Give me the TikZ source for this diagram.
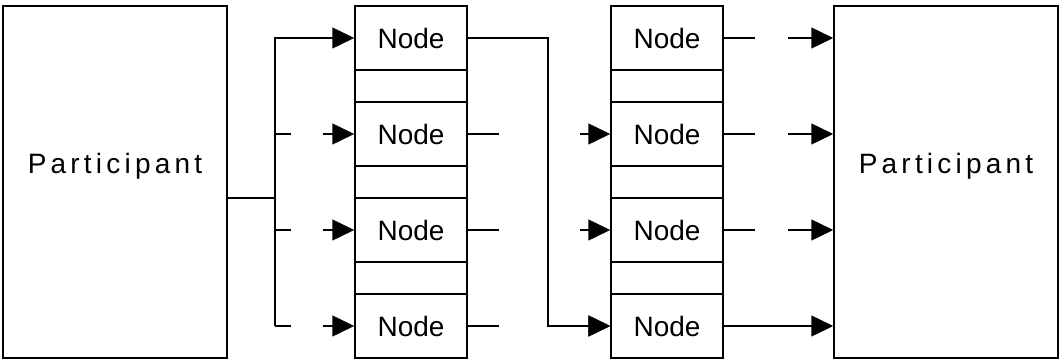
\documentclass[tikz,border=0pt]{standalone}
\usepackage{fontspec}
\setmainfont{Liberation Sans}
\newfontfamily\spacedfont[LetterSpace=15]{Liberation Sans}
\usetikzlibrary{arrows.meta,calc}

\tikzset{
  box/.style={draw, line width=1.5pt, inner sep=0pt, minimum width=112pt},
  cell/.style={box, minimum height=64pt, font=\fontsize{28}{30}\selectfont},
  gapcell/.style={box, minimum height=32pt},
  party/.style={draw, line width=1.5pt, inner sep=0pt, minimum width=224pt, minimum height=352pt},
  partylabel/.style={anchor=base, inner sep=0pt, font=\spacedfont\fontsize{28}{30}\selectfont},
  wire/.style={line width=1.5pt},
  link/.style={wire, -{Triangle[length=22pt,width=21pt]}},
  % connectors that are broken by a gap between stub and arrow
  brokenA/.style={link, dash pattern=on 16pt off 32pt on 200pt},
  brokenB/.style={link, dash pattern=on 31pt off 81pt on 200pt},
  brokenC/.style={link, dash pattern=on 31pt off 33pt on 200pt},
}

\begin{document}
\begin{tikzpicture}[x=1pt, y=-1pt]
\useasboundingbox (0,0) rectangle (1061,361);

% participants
\node[party] (pL) at (115,182) {};
\node[partylabel] (pLt) at (115,173) {Participant};
\node[party] (pR) at (946,182) {};
\node[partylabel] (pRt) at (946,173) {Participant};

% first column of cells
\node[cell]    (n11) at (411,38)  {Node};
\node[gapcell] (e11) at (411,86)  {};
\node[cell]    (n12) at (411,134) {Node};
\node[gapcell] (e12) at (411,182) {};
\node[cell]    (n13) at (411,230) {Node};
\node[gapcell] (e13) at (411,278) {};
\node[cell]    (n14) at (411,326) {Node};

% second column of cells
\node[cell]    (n21) at (667,38)  {Node};
\node[gapcell] (e21) at (667,86)  {};
\node[cell]    (n22) at (667,134) {Node};
\node[gapcell] (e22) at (667,182) {};
\node[cell]    (n23) at (667,230) {Node};
\node[gapcell] (e23) at (667,278) {};
\node[cell]    (n24) at (667,326) {Node};

% fan-out from the left participant
\coordinate (j) at (275,198);
\draw[wire] (pL.east |- j) -- (j);
\draw[link] (j) |- (n11.west);
\draw[wire] (j) -- (j |- n14.west);
\draw[brokenA] (j |- n12.west) -- (n12.west);
\draw[brokenA] (j |- n13.west) -- (n13.west);
\draw[brokenA] (j |- n14.west) -- (n14.west);

% first column to second column
\draw[link] (n11.east) -- ++(80,0) |- (n24.west);
\draw[brokenB] (n12.east) -- (n22.west);
\draw[brokenB] (n13.east) -- (n23.west);
\draw[brokenB] (n14.east) -- (n24.west);

% second column to the right participant
\draw[brokenC] (n21.east) -- (n21.east -| pR.west);
\draw[brokenC] (n22.east) -- (n22.east -| pR.west);
\draw[brokenC] (n23.east) -- (n23.east -| pR.west);
\draw[link] (n24.east) -- (n24.east -| pR.west);
\end{tikzpicture}
\end{document}
